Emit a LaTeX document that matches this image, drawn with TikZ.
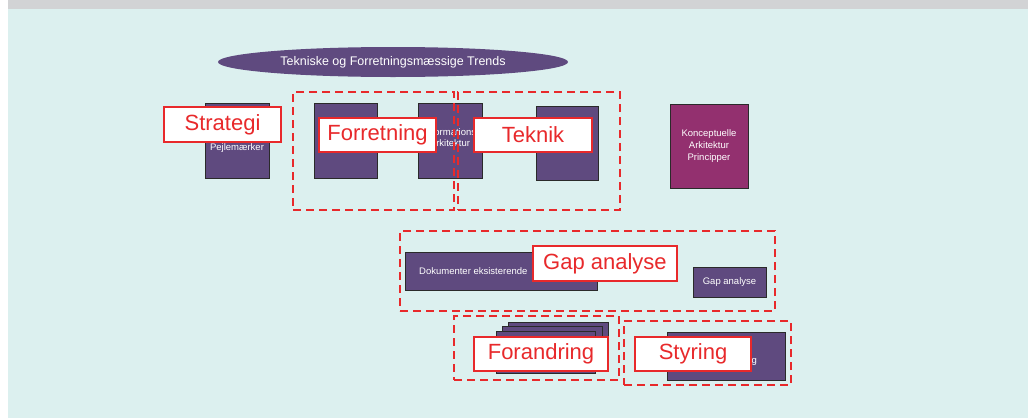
\documentclass[tikz,border=0pt]{standalone}
\usepackage{fontspec}
\setmainfont{Liberation Sans}
\usetikzlibrary{shapes.geometric}
\definecolor{bgcyan}{HTML}{DCF0EF}
\definecolor{topgray}{HTML}{D2D3D5}
\definecolor{purp}{HTML}{5F4A7F}
\definecolor{magen}{HTML}{93306F}
\definecolor{redline}{HTML}{E8292B}
\definecolor{edge}{HTML}{2A2A2A}
\tikzset{
  pbox/.style={draw=edge, fill=purp, line width=1pt, inner sep=0pt,
    text=white, align=center, font=\fontsize{9.5}{12}\selectfont},
  smalltext/.style={text=white, inner sep=0pt, align=center, font=\fontsize{9.5}{11.5}\selectfont},
  area/.style={draw=redline, line width=2.8pt, dash pattern=on 8pt off 5pt, inner sep=0pt},
  tag/.style={draw=redline, fill=white, line width=2.8pt, inner sep=0pt,
    text=redline, font=\fontsize{22}{25}\selectfont}
}
\begin{document}
\begin{tikzpicture}[x=1pt, y=-1pt]
  % page background
  \useasboundingbox (0,0) rectangle (1028,418);
  \fill[white] (0,0) rectangle (1028,418);
  \fill[topgray] (8,0) rectangle (1028,9);
  \fill[bgcyan] (8,9) rectangle (1028,418);

  % trends banner
  \node[ellipse, fill=purp, minimum width=350pt, minimum height=30pt, inner sep=0pt,
        text=white, font=\fontsize{12.5}{14}\selectfont] (trends) at (393,62)
        {Tekniske og Forretningsmæssige Trends};

  % upper row of boxes
  \node[pbox, minimum width=64pt, minimum height=75pt] (pejl) at (237,140.5) {};
  \node[smalltext] (pejltxt) at (237,148) {Pejlemærker};
  \node[pbox, minimum width=63pt, minimum height=75pt] (forrbox) at (345.5,140.5) {};
  \node[pbox, minimum width=64pt, minimum height=75pt] (infobox) at (450,140.5) {};
  \node[smalltext] (infotxt) at (450,137.5) {Informations\\Arkitektur};
  \node[pbox, minimum width=62pt, minimum height=74pt] (tekbox) at (567,143) {};
  \node[pbox, fill=magen, minimum width=78pt, minimum height=84pt] (koncbox) at (709,146)
        {Konceptuelle\\Arkitektur\\Principper};

  % gap analysis row
  \node[pbox, minimum width=192pt, minimum height=38pt] (dokbox) at (501,271) {};
  \node[smalltext, anchor=west] (doktxt) at (419,271) {Dokumenter eksisterende};
  \node[pbox, minimum width=73pt, minimum height=30pt] (gapbox) at (729.5,282) {Gap analyse};

  % stacked change boxes
  \node[pbox, minimum width=100pt, minimum height=42pt] (stackc) at (558,343) {};
  \node[pbox, minimum width=100pt, minimum height=42pt] (stackb) at (552,347.5) {};
  \node[pbox, minimum width=99pt, minimum height=42pt] (stacka) at (545.5,352) {};

  % governance box
  \node[pbox, minimum width=118pt, minimum height=48pt] (styrbox) at (726,356) {};
  \node[smalltext, anchor=base east] (styrtxt) at (757,363) {Styring};

  % dashed grouping areas
  \node[area, minimum width=161pt, minimum height=118pt] (forrarea) at (373.5,151) {};
  \node[area, minimum width=162pt, minimum height=118pt] (tekarea) at (539,151) {};
  \node[area, minimum width=375pt, minimum height=80pt] (gaparea) at (587.5,271) {};
  \node[area, minimum width=165pt, minimum height=64pt] (forandarea) at (536.5,348) {};
  \node[area, minimum width=167pt, minimum height=64pt] (styrarea) at (707.5,353) {};

  % red captions
  \node[tag, minimum width=117pt, minimum height=35pt] (strategi) at (222.5,124.5) {Strategi};
  \node[tag, minimum width=117pt, minimum height=34pt] (forretning) at (377.5,135) {Forretning};
  \node[tag, minimum width=118pt, minimum height=34pt] (teknik) at (533,135) {Teknik};
  \node[tag, minimum width=144pt, minimum height=35pt] (gapanalyse) at (605,263.5) {Gap analyse};
  \node[tag, minimum width=134pt, minimum height=34pt] (forandring) at (541,354) {Forandring};
  \node[tag, minimum width=116pt, minimum height=34pt] (styring) at (693,354) {Styring};
\end{tikzpicture}
\end{document}
